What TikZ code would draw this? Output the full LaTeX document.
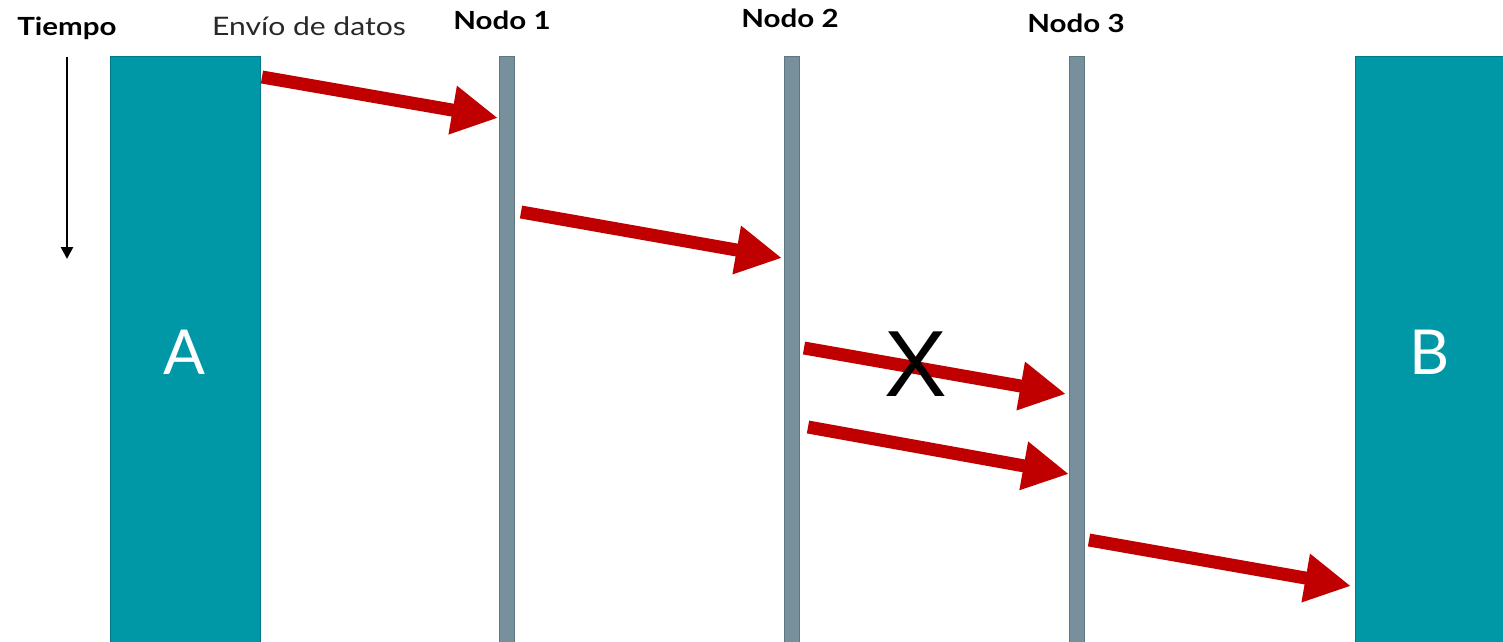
\documentclass[tikz,border=0pt]{standalone}
\usepackage{fontspec}
\setmainfont{Lato}
\newfontfamily\widefont[FakeStretch=1.18]{Lato}
\newfontfamily\xfont{Liberation Sans}
\usetikzlibrary{arrows.meta}
\definecolor{tealbox}{RGB}{0,151,167}
\definecolor{tealedge}{RGB}{0,120,135}
\definecolor{barfill}{RGB}{120,144,156}
\definecolor{baredge}{RGB}{96,118,128}
\definecolor{redarrow}{RGB}{192,0,0}
\definecolor{lighttext}{RGB}{40,40,40}
\begin{document}
\begin{tikzpicture}[x=1pt,y=-1pt,
  hostbox/.style={fill=tealbox,draw=tealedge,line width=0.8pt},
  nodebar/.style={fill=barfill,draw=baredge,line width=0.8pt},
  msg/.style={draw=redarrow,line width=13pt,-{Triangle[length=46pt 0 0,width=46pt 0 0]}},
  header/.style={font=\widefont\bfseries\fontsize{25}{27}\selectfont,text=black,inner sep=0pt},
  hostlabel/.style={font=\fontsize{62}{64}\selectfont,text=white,inner sep=0pt}]
\useasboundingbox (0,0) rectangle (1503,641);
% hosts
\draw[hostbox] (110,56) rectangle (260,645);
\draw[hostbox] (1355,56) rectangle (1507,645);
\node[hostlabel] (A) at (184,352) {A};
\node[hostlabel] (B) at (1430,352) {B};
% node bars
\draw[nodebar] (499.5,56) rectangle (514.5,645);
\draw[nodebar] (784.5,56) rectangle (799.5,645);
\draw[nodebar] (1069.5,56) rectangle (1084.5,645);
% labels
\node[header] (tiempo) at (67,28) {Tiempo};
\node[font=\widefont\fontsize{25.5}{27}\selectfont,text=lighttext,inner sep=0pt] (envio) at (309,26) {Envío de datos};
\node[header] (n1) at (502,20) {Nodo 1};
\node[header] (n2) at (790,18) {Nodo 2};
\node[header] (n3) at (1076,23) {Nodo 3};
% time arrow
\coordinate (t0) at (67,57);
\coordinate (t1) at (67,259);
\draw[line width=2.6pt,-{Triangle[length=12pt 0 0,width=12pt 0 0]}] (t0) -- (t1);
% messages
\coordinate (a1s) at (262,77);   \coordinate (a1e) at (498,118);
\coordinate (a2s) at (521,212);  \coordinate (a2e) at (782,258);
\coordinate (a3s) at (804,348);  \coordinate (a3e) at (1066,394);
\coordinate (a4s) at (808,427);  \coordinate (a4e) at (1069,474);
\coordinate (a5s) at (1089,540); \coordinate (a5e) at (1351,586);
\draw[msg] (a1s) -- (a1e);
\draw[msg] (a2s) -- (a2e);
\draw[msg] (a3s) -- (a3e);
\draw[msg] (a4s) -- (a4e);
\draw[msg] (a5s) -- (a5e);
% lost packet mark
\node[font=\xfont\fontsize{94}{96}\selectfont,inner sep=0pt,text=black] (lost) at (916,364) {X};
\end{tikzpicture}
\end{document}
